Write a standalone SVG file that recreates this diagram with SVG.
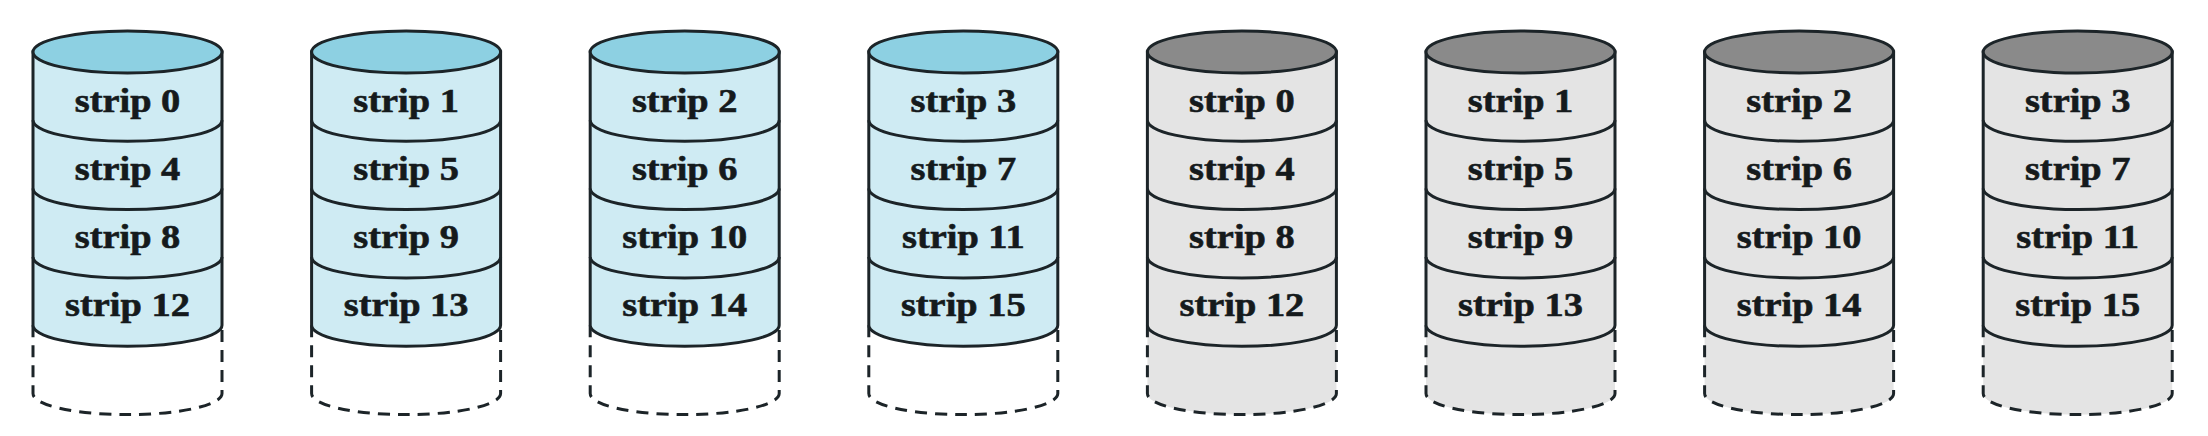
<svg xmlns="http://www.w3.org/2000/svg" xmlns:xlink="http://www.w3.org/1999/xlink" width="2208" height="436" viewBox="0 0 2208 436">
<style>
  .lbl { font-family: "Liberation Serif", "Times New Roman", serif; font-weight: bold; font-size: 34px; fill: #151a1c; stroke: #151a1c; stroke-width: 0.6; text-anchor: middle; }
  .edge { stroke: #1c2428; stroke-width: 3; }
  .dash { fill: none; stroke: #1c2428; stroke-width: 3; stroke-dasharray: 12 8; }
</style>
<defs>
  <g id="cylBlue">
    <path d="M -94.5 325.3 L -94.5 393.6 A 94.5 21 0 0 0 94.5 393.6 L 94.5 325.3 Z" fill="#ffffff"/>
    <path class="dash" d="M -94.5 325.3 L -94.5 393.6 A 94.5 21 0 0 0 94.5 393.6 L 94.5 325.3"/>
    <path class="edge" d="M -94.5 52 L -94.5 325.3 A 94.5 21 0 0 0 94.5 325.3 L 94.5 52 Z" fill="#cfebf3"/>
    <path class="edge" fill="none" d="M -94.5 120.3 A 94.5 21 0 0 0 94.5 120.3 M -94.5 188.6 A 94.5 21 0 0 0 94.5 188.6 M -94.5 257 A 94.5 21 0 0 0 94.5 257"/>
    <ellipse class="edge" cx="0" cy="52" rx="94.5" ry="21" fill="#8dd0e2"/>
  </g>
  <g id="cylGray">
    <path d="M -94.5 325.3 L -94.5 393.6 A 94.5 21 0 0 0 94.5 393.6 L 94.5 325.3 Z" fill="#e4e4e4"/>
    <path class="dash" d="M -94.5 325.3 L -94.5 393.6 A 94.5 21 0 0 0 94.5 393.6 L 94.5 325.3"/>
    <path class="edge" d="M -94.5 52 L -94.5 325.3 A 94.5 21 0 0 0 94.5 325.3 L 94.5 52 Z" fill="#e4e4e4"/>
    <path class="edge" fill="none" d="M -94.5 120.3 A 94.5 21 0 0 0 94.5 120.3 M -94.5 188.6 A 94.5 21 0 0 0 94.5 188.6 M -94.5 257 A 94.5 21 0 0 0 94.5 257"/>
    <ellipse class="edge" cx="0" cy="52" rx="94.5" ry="21" fill="#8a8a8a"/>
  </g>
</defs>
<g id="disk-a0" transform="translate(127.5,0)">
  <use xlink:href="#cylBlue" href="#cylBlue"/>
  <g transform="scale(1.13,1)"><text class="lbl" x="0" y="112">strip 0</text><text class="lbl" x="0" y="180">strip 4</text><text class="lbl" x="0" y="248">strip 8</text><text class="lbl" x="0" y="316">strip 12</text></g>
</g>
<g id="disk-a1" transform="translate(406.1,0)">
  <use xlink:href="#cylBlue" href="#cylBlue"/>
  <g transform="scale(1.13,1)"><text class="lbl" x="0" y="112">strip 1</text><text class="lbl" x="0" y="180">strip 5</text><text class="lbl" x="0" y="248">strip 9</text><text class="lbl" x="0" y="316">strip 13</text></g>
</g>
<g id="disk-a2" transform="translate(684.7,0)">
  <use xlink:href="#cylBlue" href="#cylBlue"/>
  <g transform="scale(1.13,1)"><text class="lbl" x="0" y="112">strip 2</text><text class="lbl" x="0" y="180">strip 6</text><text class="lbl" x="0" y="248">strip 10</text><text class="lbl" x="0" y="316">strip 14</text></g>
</g>
<g id="disk-a3" transform="translate(963.3,0)">
  <use xlink:href="#cylBlue" href="#cylBlue"/>
  <g transform="scale(1.13,1)"><text class="lbl" x="0" y="112">strip 3</text><text class="lbl" x="0" y="180">strip 7</text><text class="lbl" x="0" y="248">strip 11</text><text class="lbl" x="0" y="316">strip 15</text></g>
</g>
<g id="disk-b0" transform="translate(1241.9,0)">
  <use xlink:href="#cylGray" href="#cylGray"/>
  <g transform="scale(1.13,1)"><text class="lbl" x="0" y="112">strip 0</text><text class="lbl" x="0" y="180">strip 4</text><text class="lbl" x="0" y="248">strip 8</text><text class="lbl" x="0" y="316">strip 12</text></g>
</g>
<g id="disk-b1" transform="translate(1520.5,0)">
  <use xlink:href="#cylGray" href="#cylGray"/>
  <g transform="scale(1.13,1)"><text class="lbl" x="0" y="112">strip 1</text><text class="lbl" x="0" y="180">strip 5</text><text class="lbl" x="0" y="248">strip 9</text><text class="lbl" x="0" y="316">strip 13</text></g>
</g>
<g id="disk-b2" transform="translate(1799.1,0)">
  <use xlink:href="#cylGray" href="#cylGray"/>
  <g transform="scale(1.13,1)"><text class="lbl" x="0" y="112">strip 2</text><text class="lbl" x="0" y="180">strip 6</text><text class="lbl" x="0" y="248">strip 10</text><text class="lbl" x="0" y="316">strip 14</text></g>
</g>
<g id="disk-b3" transform="translate(2077.7,0)">
  <use xlink:href="#cylGray" href="#cylGray"/>
  <g transform="scale(1.13,1)"><text class="lbl" x="0" y="112">strip 3</text><text class="lbl" x="0" y="180">strip 7</text><text class="lbl" x="0" y="248">strip 11</text><text class="lbl" x="0" y="316">strip 15</text></g>
</g>
<g id="connectors"/>
</svg>
